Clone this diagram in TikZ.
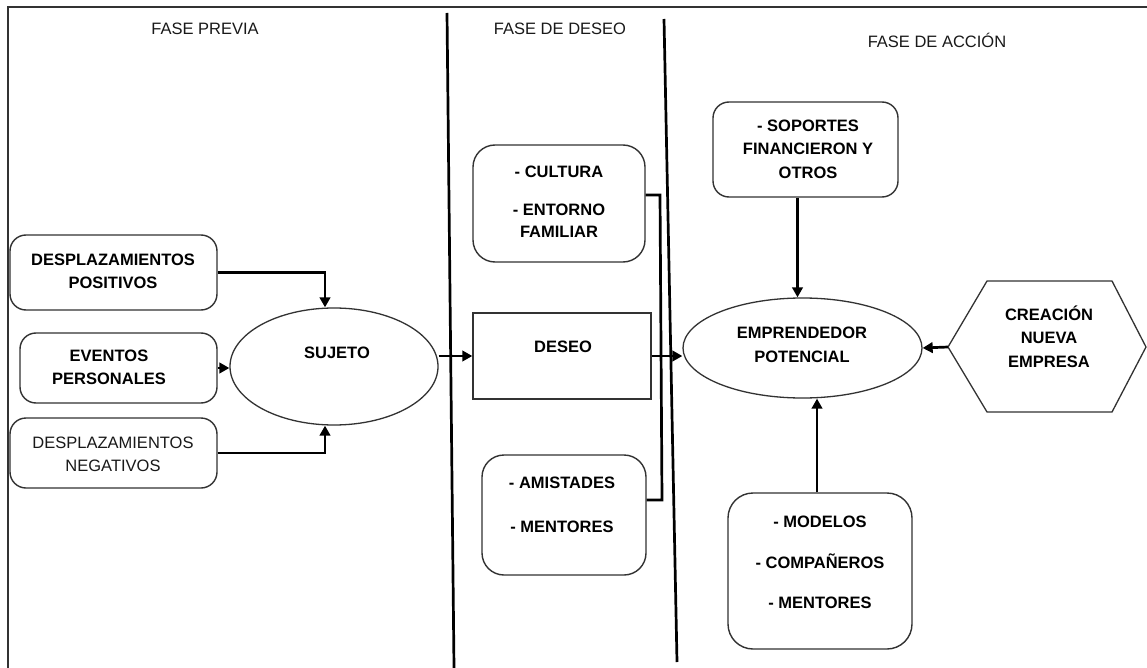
\documentclass[tikz,border=0pt]{standalone}
\usepackage{fontspec}
\setmainfont{Liberation Sans}
\usetikzlibrary{arrows.meta,shapes.geometric}
\definecolor{boxc}{RGB}{50,50,50}
\definecolor{hdrc}{RGB}{25,25,25}
\begin{document}
\begin{tikzpicture}[x=1pt,y=-1pt,
  rbox/.style={draw=boxc, line width=1.4pt, rounded corners=16pt, inner sep=0pt},
  pbox/.style={draw=boxc, line width=1.4pt, inner sep=0pt},
  ell/.style={ellipse, draw=boxc, line width=1.3pt, inner sep=0pt},
  arr/.style={line width=2.7pt, -{Triangle[length=10pt,width=10.5pt]}},
  link/.style={line width=2.7pt},
  phase/.style={line width=2.7pt},
  txt/.style={font=\fontsize{16.5}{23.5}\selectfont\bfseries, align=center, inner sep=0pt, text=black},
  txtr/.style={font=\fontsize{16.5}{23.5}\selectfont, align=center, inner sep=0pt, text=black!90},
  hdr/.style={font=\fontsize{16.5}{19}\selectfont, text=hdrc, inner sep=0pt}]
\useasboundingbox[fill=white] (0,0) rectangle (1147,668);
% frame
\draw[boxc, line width=1.4pt] (1147,7) -- (8,7) -- (8,668);
% phase dividers
\draw[phase] (447,13) -- (454,668);
\draw[phase] (664,19) -- (677,662);
% headers
\node[hdr] (h1) at (205,29) {FASE PREVIA};
\node[hdr] (h2) at (560,29) {FASE DE DESEO};
\node[hdr] (h3) at (937,40) {FASE DE ACCIÓN};
% shapes
\node[rbox, minimum width=207pt, minimum height=75pt] (pos) at (113.5,272.5) {};
\node[rbox, minimum width=197pt, minimum height=70pt] (ev) at (118.5,368) {};
\node[rbox, minimum width=207pt, minimum height=70pt] (neg) at (113.5,453) {};
\node[ell, minimum width=208pt, minimum height=117pt] (suj) at (334,366.5) {};
\node[rbox, rounded corners=22pt, minimum width=172pt, minimum height=117pt] (cult) at (559,203.5) {};
\node[pbox, minimum width=178pt, minimum height=86pt] (deseo) at (562,356) {};
\node[rbox, rounded corners=22pt, minimum width=164pt, minimum height=120pt] (amis) at (564,515) {};
\node[rbox, minimum width=185pt, minimum height=95pt] (sop) at (805.5,149.5) {};
\node[ell, minimum width=239pt, minimum height=100pt] (emp) at (802.5,348) {};
\node[rbox, rounded corners=25pt, minimum width=184pt, minimum height=156pt] (mod) at (820,571) {};
\coordinate (hexW) at (948,347);
\coordinate (hexNW) at (987,281);
\coordinate (hexNE) at (1112,281);
\coordinate (hexE) at (1146,347);
\coordinate (hexSE) at (1112,412);
\coordinate (hexSW) at (987,412);
\draw[boxc, line width=1.3pt] (hexW) -- (hexNW) -- (hexNE) -- (hexE) -- (hexSE) -- (hexSW) -- cycle;
% texts
\node[txt] (tpos) at (113,271.5) {DESPLAZAMIENTOS\\POSITIVOS};
\node[txt] (tev) at (109,367.5) {EVENTOS\\PERSONALES};
\node[txtr] (tneg) at (113,454.5) {DESPLAZAMIENTOS\\NEGATIVOS};
\node[txt] (tsuj) at (337,353) {SUJETO};
\node[txt, font=\fontsize{16.5}{22}\selectfont\bfseries] (tcult) at (559,202) {- CULTURA\\[16pt]- ENTORNO\\FAMILIAR};
\node[txt] (tdeseo) at (563,347) {DESEO};
\node[txt, font=\fontsize{16.5}{22}\selectfont\bfseries] (tamis) at (562,505) {- AMISTADES\\[22pt]- MENTORES};
\node[txt] (tsop) at (808,149) {- SOPORTES\\FINANCIERON Y\\OTROS};
\node[txt] (temp) at (802,345) {EMPRENDEDOR\\POTENCIAL};
\node[txt] (thex) at (1049,336.5) {CREACIÓN\\NUEVA\\EMPRESA};
\node[txt, font=\fontsize{16.5}{22}\selectfont\bfseries] (tmod) at (820,562.5) {- MODELOS\\[18.5pt]- COMPAÑEROS\\[18.5pt]- MENTORES};
% connectors
\draw[arr] (pos.east) -| ([xshift=-9pt]suj.north);
\draw[arr] (ev.east) -- (suj.west |- ev.east);
\draw[arr] (neg.east) -| ([xshift=-9pt]suj.south);
\draw[arr] (suj.east |- deseo.west) -- (deseo.west);
\draw[arr] (deseo.east) -- (deseo.east -| emp.west);
\coordinate (b1) at (660,195);
\coordinate (b2) at (662,500);
\draw[link] (cult.east |- b1) -- (b1) -- (b2) -- (amis.east |- b2);
\draw[arr] ([xshift=-8pt]sop.south) -- ([xshift=-8pt]sop.south |- emp.north);
\draw[arr] ([xshift=-3pt]mod.north) -- ([xshift=-3pt]mod.north |- emp.south);
\draw[arr] (hexW) -- (emp.east);
\end{tikzpicture}
\end{document}
